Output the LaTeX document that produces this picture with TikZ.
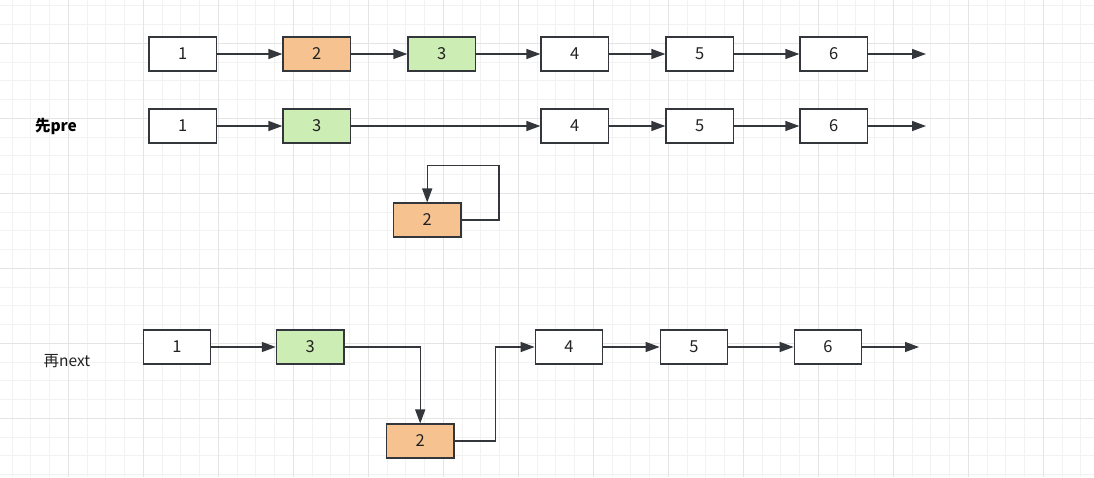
\documentclass[tikz,border=0pt]{standalone}
\usepackage{fontspec}
\setmainfont{Noto Sans CJK SC}
\usetikzlibrary{arrows.meta}
\definecolor{gridminor}{RGB}{242,242,242}
\definecolor{gridmajor}{RGB}{228,228,228}
\definecolor{edge}{RGB}{51,54,58}
\definecolor{nodeorange}{RGB}{246,195,144}
\definecolor{nodegreen}{RGB}{204,237,180}
\definecolor{ink}{RGB}{34,34,34}
\tikzset{
  cell/.style={draw=edge, line width=1.3pt, fill=white, minimum width=67.5pt,
    minimum height=33.75pt, inner sep=0pt, text=ink, font=\fontsize{16.5}{16.5}\selectfont},
  moved/.style={cell, fill=nodeorange},
  kept/.style={cell, fill=nodegreen},
  link/.style={draw=edge, line width=1.3pt, -{Triangle[length=14pt,width=10pt]}},
  caption/.style={text=ink, inner sep=0pt, font=\fontsize{15.5}{15.5}\selectfont}
}
\begin{document}
\begin{tikzpicture}[x=1pt,y=-1pt]
\useasboundingbox (0,0) rectangle (1094,477);
\fill[white] (0,0) rectangle (1094,477);
% background grid: fine lines, then every fourth line darker
\foreach \i in {0,...,57} {
  \pgfmathsetmacro\gx{12.083+18.75*\i}
  \draw[gridminor, line width=1pt] (\gx,0) -- (\gx,477);
}
\foreach \i in {0,...,25} {
  \pgfmathsetmacro\gy{5.833+18.75*\i}
  \draw[gridminor, line width=1pt] (0,\gy) -- (1094,\gy);
}
\foreach \i in {0,...,14} {
  \pgfmathsetmacro\gx{-6.667+75*\i}
  \draw[gridmajor, line width=1pt] (\gx,0) -- (\gx,477);
}
\foreach \i in {0,...,6} {
  \pgfmathsetmacro\gy{43.333+75*\i}
  \draw[gridmajor, line width=1pt] (0,\gy) -- (1094,\gy);
}

% original list
\node[cell]  (a1) at (182.75,54) {1};
\node[moved] (a2) at (316.75,54) {2};
\node[kept]  (a3) at (441.75,54) {3};
\node[cell]  (a4) at (574.75,54) {4};
\node[cell]  (a5) at (699.75,54) {5};
\node[cell]  (a6) at (833.75,54) {6};
\coordinate (aend) at (926,54);
\draw[link] (a1) -- (a2);
\draw[link] (a2) -- (a3);
\draw[link] (a3) -- (a4);
\draw[link] (a4) -- (a5);
\draw[link] (a5) -- (a6);
\draw[link] (a6) -- (aend);

% step one: pre
\node[caption, text=black, font=\fontsize{15.5}{15.5}\selectfont\bfseries] (lpre) at (56,126) {先pre};
\node[cell] (b1) at (182.75,126) {1};
\node[kept] (b3) at (316.75,126) {3};
\node[cell] (b4) at (574.75,126) {4};
\node[cell] (b5) at (699.75,126) {5};
\node[cell] (b6) at (833.75,126) {6};
\coordinate (bend) at (926,126);
\draw[link] (b1) -- (b3);
\draw[link] (b3) -- (b4);
\draw[link] (b4) -- (b5);
\draw[link] (b5) -- (b6);
\draw[link] (b6) -- (bend);
\node[moved] (b2) at (427.2,220) {2};
\draw[link] (b2.east) -- ++(37.3,0) -- ++(0,-54.3) -| (b2.north);

% step two: next
\node[caption] (lnext) at (67,361) {再next};
\node[cell]  (c1) at (177,347) {1};
\node[kept]  (c3) at (310.2,347) {3};
\node[moved] (c2) at (420.2,441) {2};
\node[cell]  (c4) at (569,347) {4};
\node[cell]  (c5) at (694,347) {5};
\node[cell]  (c6) at (828,347) {6};
\coordinate (cend) at (919,347);
\draw[link] (c1) -- (c3);
\draw[link] (c3.east) -| (c2.north);
\draw[link] (c2.east) -- ++(40.7,0) |- (c4.west);
\draw[link] (c4) -- (c5);
\draw[link] (c5) -- (c6);
\draw[link] (c6) -- (cend);
\end{tikzpicture}
\end{document}
